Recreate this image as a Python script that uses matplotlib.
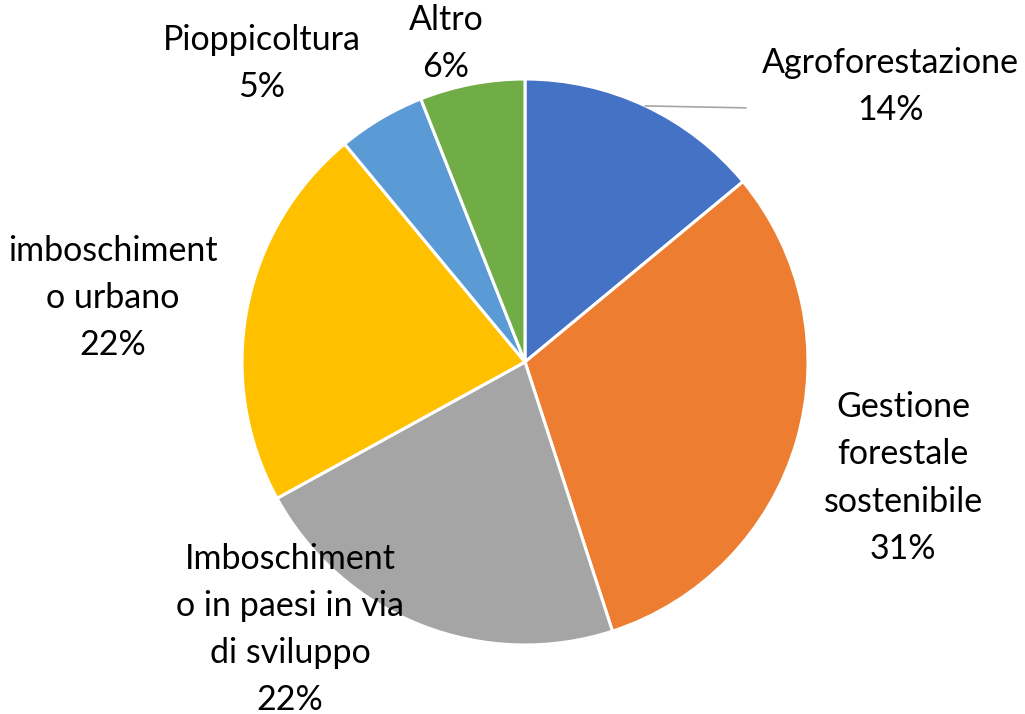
import matplotlib.pyplot as plt
import numpy as np

plt.rcParams['font.family'] = ['Lato', 'DejaVu Sans']

categories = ["Agroforestazione",
              "Gestione\nforestale\nsostenibile",
              "Imboschiment\no in paesi in via\ndi sviluppo",
              "imboschiment\no urbano",
              "Pioppicoltura",
              "Altro"]
shares = [14, 31, 22, 22, 5, 6]
colors = ['#4472C4', '#ED7D31', '#A5A5A5', '#FFC000', '#5B9BD5', '#70AD47']

# label block centres, in pie-radius units
label_pos = [(1.29, 0.975), (1.336, -0.41), (-0.83, -0.945),
             (-1.456, 0.225), (-0.929, 1.055), (-0.279, 1.125)]

fig = plt.figure(figsize=(10.25, 7.14), dpi=100)
ax = fig.add_axes([0, 0, 1, 1])
px = 283.0

wedges, _ = ax.pie(shares, colors=colors, startangle=90, counterclock=False,
                   radius=1.0, center=(0, 0), frame=True,
                   wedgeprops=dict(edgecolor='white', linewidth=2.2))
ax.set_xlim(-525 / px, (1025 - 525) / px)
ax.set_ylim(-(714 - 362) / px, 362 / px)
ax.axis('off')

for name, val, (lx, ly) in zip(categories, shares, label_pos):
    ax.text(lx, ly, f"{name}\n{val}%", ha='center', va='center',
            fontsize=24.5, linespacing=1.58, color='black', zorder=5)

# leader line for the first slice
w = wedges[0]
mid = np.deg2rad((w.theta1 + w.theta2) / 2)
ax.plot([np.cos(mid), 0.78], [np.sin(mid), 0.898], color='#A6A6A6',
        linewidth=1.2, zorder=4)

fig.savefig('out.png', dpi=100, facecolor='white')
